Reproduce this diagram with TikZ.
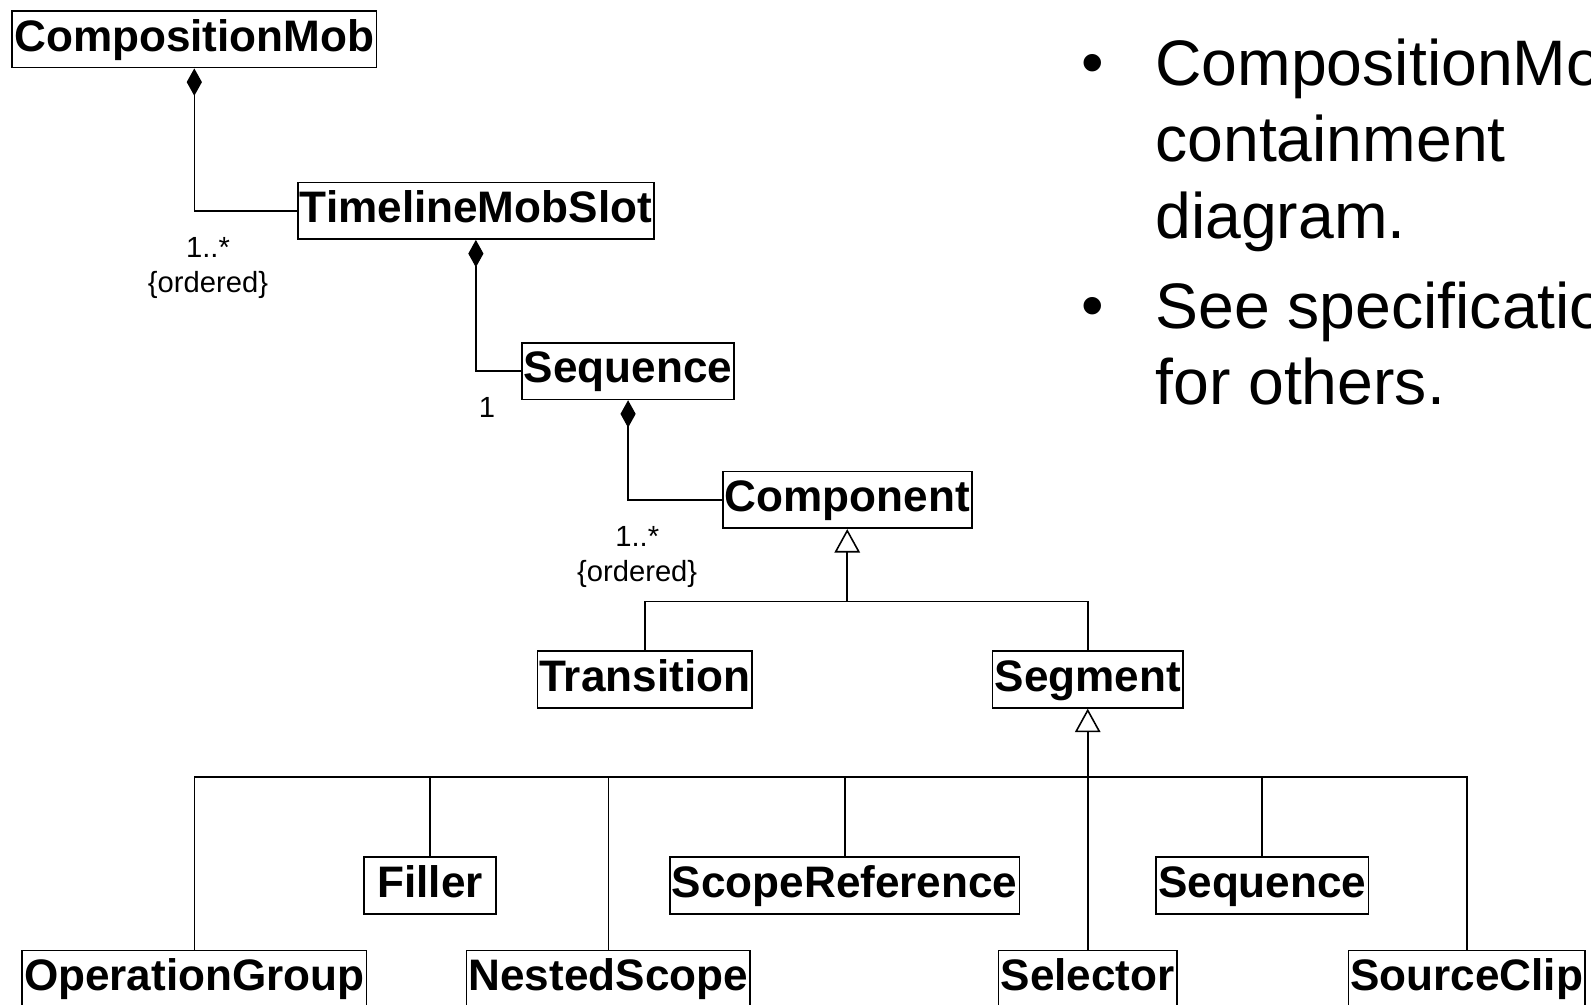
\documentclass[tikz,border=0pt]{standalone}
\usepackage{fontspec}
\setmainfont{Liberation Sans}
\usetikzlibrary{arrows.meta}
\usetikzlibrary{positioning}

\begin{document}
\begin{tikzpicture}[x=0.010147cm, y=-0.010147cm]
    \tikzset{ cls/.style  ={draw=black, line width=0.45pt, inner xsep=0.02cm, inner ysep=0.066cm, text height=0.335cm, text depth=0.10cm, font=\bfseries\fontsize{12.55}{14}\selectfont, anchor=north} }
    \tikzset{ clsc/.style ={cls, text depth=0.60cm} }
    \tikzset{ mult/.style ={align=center, inner sep=0pt, font=\fontsize{8.3}{10}\selectfont} }
    \tikzset{ cmp/.style  ={line width=0.45pt, {Diamond[length=0.274cm, width=0.152cm]}-} }
    \tikzset{ gen/.style  ={line width=0.45pt, -{Triangle[open, length=0.235cm, width=0.255cm]}} }
    \tikzset{ bus/.style  ={line width=0.45pt} }
    \tikzset{ blt/.style  ={align=left, inner sep=0pt, anchor=base west, font=\fontsize{18.3}{21.8}\selectfont} }

    \useasboundingbox (0,0) rectangle (1568,989.5);

    % classes
    \node[cls ] (cmob)  at ( 191.5, 10) {CompositionMob};
    \node[cls ] (tms)   at ( 469.0,179) {TimelineMobSlot};
    \node[cls ] (seq1)  at ( 619.0,337) {Sequence};
    \node[cls ] (cmpt)  at ( 835.0,464) {Component};
    \node[cls ] (trn)   at ( 635.5,641) {Transition};
    \node[cls ] (sgm)   at (1072.0,641) {Segment};
    \node[cls , minimum width=1.32cm] (fill)  at ( 424.0,844) {Filler};
    \node[cls ] (scref) at ( 832.5,844) {ScopeReference};
    \node[cls ] (seq2)  at (1244.0,844) {Sequence};
    \node[clsc] (opg)   at ( 191.5,936) {OperationGroup};
    \node[clsc] (nsc)   at ( 599.5,936) {NestedScope};
    \node[clsc] (sel)   at (1072.0,936) {Selector};
    \node[clsc] (sclip) at (1445.5,936) {SourceClip};

    % multiplicities
    \node[mult] (m1) at (205,264) {1..*\\\{ordered\}};
    \node[mult] (m2) at (480,402) {1};
    \node[mult] (m3) at (628,549) {1..*\\\{ordered\}};

    % containment
    \draw[cmp] (cmob.south) |- (tms.west);
    \draw[cmp] (tms.south)  |- (seq1.west);
    \draw[cmp] (seq1.south) |- (cmpt.west);

    % inheritance
    \coordinate (j1) at (cmpt.south |- 0,593);
    \coordinate (j2) at (sgm.south  |- 0,766);
    \draw[gen] (j1) -- (cmpt.south);
    \draw[bus] (trn.north) |- (j1) -| (sgm.north);
    \draw[gen] (j2) -- (sgm.south);
    \foreach \c in {opg,fill,nsc,scref,sel,seq2,sclip}
        \draw[bus] (\c.north) |- (j2);

    % notes
    \node[blt] (d1) at (1065, 83) {•};
    \node[blt] (t1) at (1138,235) {CompositionMob\\containment\\diagram.};
    \node[blt] (d2) at (1065,323) {•};
    \node[blt] (t2) at (1138,399) {See specification\\for others.};
\end{tikzpicture}
\end{document}
